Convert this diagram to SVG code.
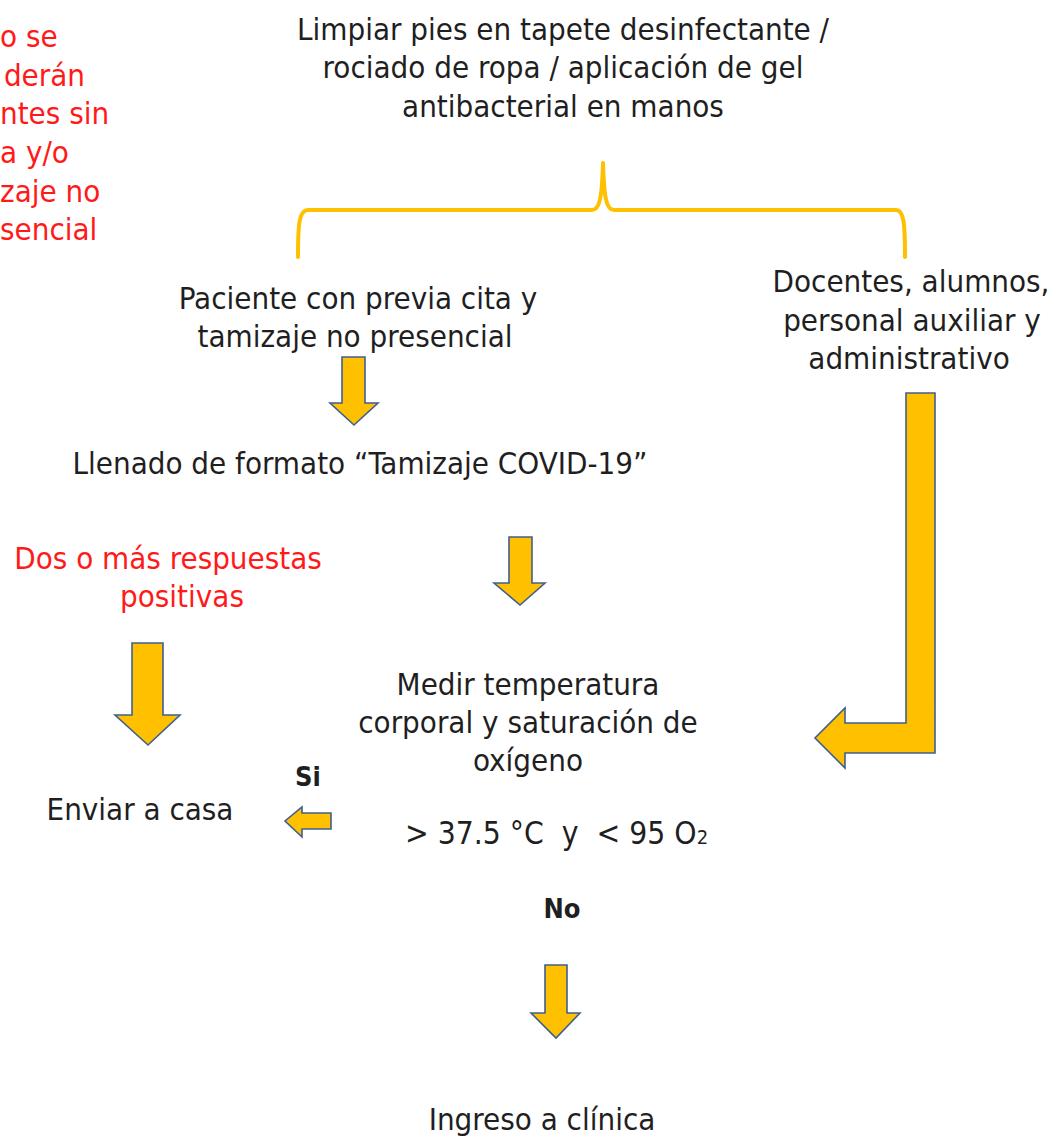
<svg xmlns="http://www.w3.org/2000/svg" width="1057" height="1139" viewBox="0 0 1057 1139">
<style>
text{font-family:"DejaVu Sans Condensed","DejaVu Sans",sans-serif;font-size:31px;fill:#1f1f1f}
.c{text-anchor:middle}
.red{fill:#ff1a1a}
.b{font-weight:bold}
.arrow{fill:#FFC000;stroke:#3f5f8f;stroke-width:1.6;stroke-linejoin:miter}
.brace{fill:none;stroke:#FFC000;stroke-width:4;stroke-linecap:round;stroke-linejoin:round}
</style>
<rect width="1057" height="1139" fill="#ffffff"/>
<g id="connectors">
<path class="brace" d="M298,257 C298,224 299,210 308,210 H592 C600,210 602,196 603,163 C604,196 606,210 614,210 H896 C904,210 905,224 905,257"/>
<path class="arrow" d="M342,357 H365 V403 H378 L354,425 L330,403 H342 Z"/>
<path class="arrow" d="M509,537 H532 V583 H545 L520,605 L494,583 H509 Z"/>
<path class="arrow" d="M132,643 H163 V715 H180 L148,745 L115,715 H132 Z"/>
<path class="arrow" d="M545,965 H567 V1013 H580 L556,1038 L531,1013 H545 Z"/>
<path class="arrow" d="M906,393 H935 V753 H845 V768 L815,738 L845,708 V723 H906 Z"/>
<path class="arrow" d="M331,813 V829 H302 V837 L285,821 L302,807 V813 Z"/>
</g>
<g id="note-red">
<text class="red" x="0" y="47">o se</text>
<text class="red" text-anchor="end" x="85" y="86">derán</text>
<text class="red" x="0" y="124">ntes sin</text>
<text class="red" x="0" y="163">a y/o</text>
<text class="red" x="0" y="202">zaje no</text>
<text class="red" x="0" y="240">sencial</text>
</g>
<g id="limpiar">
<text class="c" x="563" y="40">Limpiar pies en tapete desinfectante /</text>
<text class="c" x="563" y="78">rociado de ropa / aplicación de gel</text>
<text class="c" x="563" y="117">antibacterial en manos</text>
</g>
<g id="paciente">
<text class="c" x="358" y="309">Paciente con previa cita y</text>
<text class="c" x="355" y="347">tamizaje no presencial</text>
</g>
<g id="docentes">
<text class="c" x="911" y="292">Docentes, alumnos,</text>
<text class="c" x="912" y="331">personal auxiliar y</text>
<text class="c" x="909" y="369">administrativo</text>
</g>
<g id="llenado">
<text class="c" x="360" y="474">Llenado de formato “Tamizaje COVID-19”</text>
</g>
<g id="dos-o-mas">
<text class="c red" x="168" y="569">Dos o más respuestas</text>
<text class="c red" x="182" y="607">positivas</text>
</g>
<g id="medir">
<text class="c" x="528" y="695">Medir temperatura</text>
<text class="c" x="528" y="733">corporal y saturación de</text>
<text class="c" x="528" y="771">oxígeno</text>
</g>
<g id="si-label">
<text class="b" x="295" y="786" style="font-size:27px">Si</text>
</g>
<g id="enviar">
<text class="c" x="140" y="820">Enviar a casa</text>
</g>
<g id="condicion">
<text x="405" y="844" xml:space="preserve" style="font-size:31.5px">&gt; 37.5 °C  y  &lt; 95 O<tspan style="font-size:20px">2</tspan></text>
</g>
<g id="no-label">
<text class="c b" x="562" y="918" style="font-size:27px">No</text>
</g>
<g id="ingreso">
<text class="c" x="542" y="1130">Ingreso a clínica</text>
</g>
</svg>
